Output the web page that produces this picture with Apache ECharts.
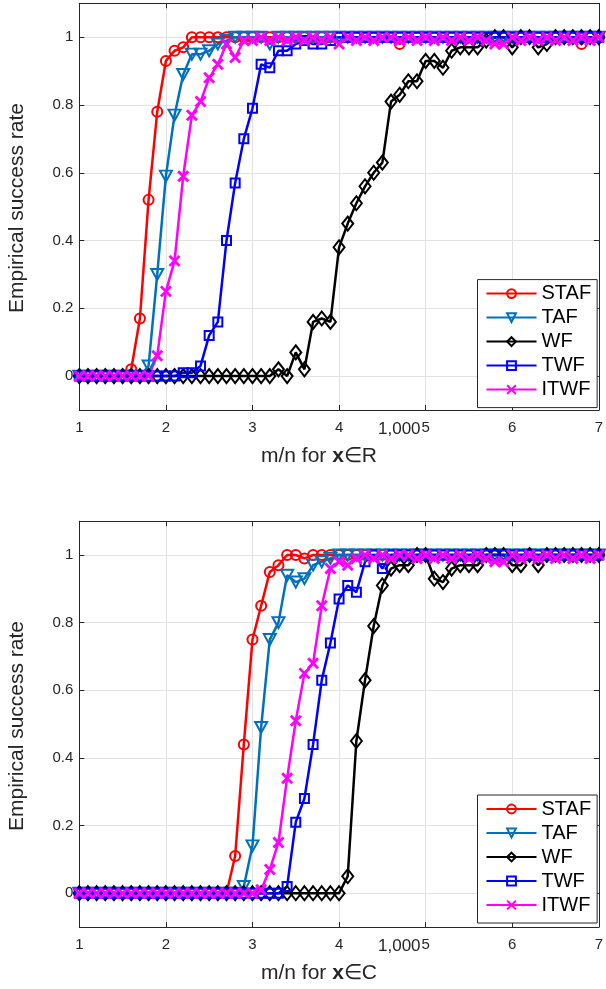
<!DOCTYPE html>
<html>
<head>
<meta charset="utf-8">
<script src="https://cdn.jsdelivr.net/npm/echarts@6/dist/echarts.min.js"></script>
<style>
  html, body { margin: 0; padding: 0; background: #fff; }
  #chart { width: 606px; height: 989px; }
</style>
</head>
<body>
<div id="chart"></div>
<script>
// Oversampling ratio m/n (shared by both panels)
const mRatio = [1.0,1.1,1.2,1.3,1.4,1.5,1.6,1.7,1.8,1.9,
                2.0,2.1,2.2,2.3,2.4,2.5,2.6,2.7,2.8,2.9,
                3.0,3.1,3.2,3.3,3.4,3.5,3.6,3.7,3.8,3.9,
                4.0,4.1,4.2,4.3,4.4,4.5,4.6,4.7,4.8,4.9,
                5.0,5.1,5.2,5.3,5.4,5.5,5.6,5.7,5.8,5.9,
                6.0,6.1,6.2,6.3,6.4,6.5,6.6,6.7,6.8,6.9,7.0];

const xTicks = [1, 2, 3, 4, 5, 6, 7];
const yTicks = [0, 0.2, 0.4, 0.6, 0.8, 1];
const methods = ['STAF', 'TAF', 'WF', 'TWF', 'ITWF'];

// Real-valued signals, x in R^1000
const stafReal = [0,0,0,0,0,0,.02,.17,.52,.78,
                  .93,.96,.97,1,1,1,1,1,1,1,
                  1,1,1,1,1,1,1,1,1,1,
                  1,1,1,1,1,1,1,.98,1,1,
                  1,1,1,1,1,1,1,1,1,1,
                  1,1,1,1,1,1,1,1,.98,1,1];
const tafReal  = [0,0,0,0,0,0,0,0,.03,.30,
                  .59,.77,.89,.95,.95,.96,.98,.99,1,1,
                  1,1,.98,1,1,1,1,1,1,1,
                  1,1,1,1,1,1,1,1,1,1,
                  1,1,1,1,1,1,1,1,1,1,
                  1,1,1,1,1,1,1,1,1,1,1];
const wfReal   = [0,0,0,0,0,0,0,0,0,0,
                  0,0,0,0,0,0,0,0,0,0,
                  0,0,0,.02,0,.07,.02,.16,.17,.16,
                  .38,.45,.51,.56,.60,.63,.81,.83,.87,.87,
                  .93,.93,.91,.96,.97,.97,.97,.99,1,1,
                  .97,1,1,.97,.98,1,1,1,1,1,1];
const twfReal  = [0,0,0,0,0,0,0,0,0,0,
                  0,0,.01,.01,.03,.12,.16,.40,.57,.70,
                  .79,.92,.91,.96,.96,.98,.99,.98,.98,.99,
                  1,1,1,1,1,1,1,1,1,1,
                  1,1,1,1,1,1,1,1,1,1,
                  1,1,1,1,1,1,1,1,1,1,1];
const itwfReal = [0,0,0,0,0,0,0,0,0,.06,
                  .25,.34,.59,.77,.81,.88,.92,.98,.94,.99,
                  .99,1,.99,1,.99,1,.99,1,.99,1,
                  .98,1,.99,1,.99,1,1,.99,1,.99,
                  1,.99,1,.99,1,.99,1,.99,.98,.98,
                  1,.99,1,.99,1,.99,1,.99,1,.99,1];

// Complex-valued signals, x in C^1000
const stafCplx = [0,0,0,0,0,0,0,0,0,0,
                  0,0,0,0,0,0,0,0,.11,.44,
                  .75,.85,.95,.97,1,1,.99,1,1,1,
                  1,1,1,1,1,1,1,1,1,1,
                  1,1,1,1,1,1,1,1,1,1,
                  1,1,1,1,1,1,1,1,1,1,1];
const tafCplx  = [0,0,0,0,0,0,0,0,0,0,
                  0,0,0,0,0,0,0,0,0,.02,
                  .14,.49,.75,.80,.94,.92,.93,.97,.98,.99,
                  1,1,1,1,1,1,1,1,1,1,
                  1,1,1,1,1,1,1,1,1,1,
                  1,1,1,1,1,1,1,1,1,1,1];
const wfCplx   = [0,0,0,0,0,0,0,0,0,0,
                  0,0,0,0,0,0,0,0,0,0,
                  0,0,0,0,0,0,0,0,0,0,
                  0,.05,.45,.63,.79,.91,.96,.97,.97,1,
                  1,.93,.92,.96,.97,.97,.97,1,1,1,
                  .97,.97,1,.97,1,1,1,1,1,1,1];
const twfCplx  = [0,0,0,0,0,0,0,0,0,0,
                  0,0,0,0,0,0,0,0,0,0,
                  0,0,0,0,.02,.21,.28,.44,.63,.74,
                  .87,.91,.89,.98,1,.96,1,1,1,1,
                  1,1,1,1,1,1,1,1,1,1,
                  1,1,1,1,1,1,1,1,1,1,1];
const itwfCplx = [0,0,0,0,0,0,0,0,0,0,
                  0,0,0,0,0,0,0,0,0,0,
                  0,.01,.07,.15,.34,.51,.65,.68,.85,.96,
                  .98,.97,.99,1,.99,1,.99,1,1,.99,
                  1,.99,1,.99,1,.99,1,.99,.98,.98,
                  1,.99,1,.99,1,.99,1,.99,1,.99,1];

const FONT = '"Liberation Sans", Arial, Helvetica, sans-serif';
const AXIS_COLOR = '#262626';
const GRID_COLOR = '#e2e2e2';

// Marker / colour style of each method
const styles = {
  STAF: { color: '#FF0000', symbol: 'circle', size: 10, bw: 2 },
  TAF:  { color: '#0072BD', symbol: 'triangle', size: [12, 11], rotate: 180, bw: 2 },
  WF:   { color: '#000000', symbol: 'diamond', size: [11, 14], bw: 2 },
  TWF:  { color: '#0000FF', symbol: 'rect', size: 9, bw: 2 },
  ITWF: { color: '#FF00FF', symbol: 'path://M0,0L10,10M10,0L0,10', size: 10, bw: 2.8 }
};

function makeSeries(name, values, gridIdx) {
  const s = styles[name];
  return {
    name: name,
    type: 'line',
    xAxisIndex: gridIdx * 2,
    yAxisIndex: gridIdx * 2,
    data: mRatio.map((m, i) => [m, values[i]]),
    symbol: s.symbol,
    symbolSize: s.size,
    symbolRotate: s.rotate || 0,
    showAllSymbol: true,
    clip: true,
    lineStyle: { color: s.color, width: 2.5 },
    itemStyle: { color: 'none', borderColor: s.color, borderWidth: s.bw },
    emphasis: { disabled: true }
  };
}

function bottomX(gridIdx) {
  return {
    type: 'value', gridIndex: gridIdx, position: 'bottom',
    min: 1, max: 7, interval: 1,
    axisLine: { show: true, onZero: false, lineStyle: { color: AXIS_COLOR, width: 1 } },
    axisTick: { show: true, inside: true, length: 5, lineStyle: { color: AXIS_COLOR } },
    axisLabel: { show: true, margin: 10, fontSize: 15, color: AXIS_COLOR, fontFamily: FONT },
    splitLine: { show: true, lineStyle: { color: GRID_COLOR, width: 1 } }
  };
}
function topX(gridIdx) {
  return {
    type: 'value', gridIndex: gridIdx, position: 'top',
    min: 1, max: 7, interval: 1,
    axisLine: { show: true, onZero: false, lineStyle: { color: AXIS_COLOR, width: 1 } },
    axisTick: { show: true, inside: true, length: 5, lineStyle: { color: AXIS_COLOR } },
    axisLabel: { show: false },
    splitLine: { show: false }
  };
}
function leftY(gridIdx) {
  return {
    type: 'value', gridIndex: gridIdx, position: 'left',
    min: -0.1, max: 1.1,
    axisLine: { show: true, onZero: false, lineStyle: { color: AXIS_COLOR, width: 1 } },
    axisTick: { show: true, inside: true, length: 5, customValues: yTicks, lineStyle: { color: AXIS_COLOR } },
    axisLabel: {
      show: true, margin: 6, fontSize: 15, color: AXIS_COLOR, fontFamily: FONT,
      customValues: yTicks,
      formatter: v => (v === 0 ? '0' : v === 1 ? '1' : v.toFixed(1))
    },
    splitLine: { show: true, lineStyle: { color: GRID_COLOR, width: 1 } }
  };
}
function rightY(gridIdx) {
  return {
    type: 'value', gridIndex: gridIdx, position: 'right',
    min: -0.1, max: 1.1,
    axisLine: { show: true, onZero: false, lineStyle: { color: AXIS_COLOR, width: 1 } },
    axisTick: { show: true, inside: true, length: 5, customValues: yTicks, lineStyle: { color: AXIS_COLOR } },
    axisLabel: { show: false },
    splitLine: { show: false }
  };
}

function legendAt(top) {
  return {
    data: methods,
    orient: 'vertical',
    left: 477.5, top: top,
    backgroundColor: '#ffffff',
    borderColor: AXIS_COLOR, borderWidth: 1, borderRadius: 0,
    padding: [4, 6, 8, 8],
    itemGap: 4, itemWidth: 50, itemHeight: 11,
    selectedMode: false,
    textStyle: { fontSize: 20, color: '#000', fontFamily: FONT }
  };
}

// Axis titles (x label carries a bold vector symbol and a superscript dimension)
function xTitle(baselineBottom, setSymbol) {
  return [
    {
      type: 'text', x: 377, y: baselineBottom,
      style: {
        text: '{n|m/n for }{b|x}{n|∈' + setSymbol + '}',
        align: 'right', verticalAlign: 'bottom',
        rich: {
          n: { fontSize: 21, fontFamily: FONT, fill: AXIS_COLOR },
          b: { fontSize: 21, fontFamily: FONT, fontWeight: 'bold', fill: AXIS_COLOR }
        }
      }
    },
    {
      type: 'text', x: 378, y: baselineBottom - 46,
      style: { text: '1,000', fontSize: 17, fontFamily: FONT, fill: AXIS_COLOR, align: 'left', verticalAlign: 'top' }
    }
  ];
}
function yTitle(cy) {
  return {
    type: 'text', x: 17, y: cy, rotation: Math.PI / 2,
    style: { text: 'Empirical success rate', fontSize: 21, fontFamily: FONT, fill: AXIS_COLOR, align: 'center', verticalAlign: 'middle' }
  };
}

const option = {
  animation: false,
  backgroundColor: '#ffffff',
  grid: [
    { left: 79.3, top: 3.3, width: 521.4, height: 406.7, containLabel: false },
    { left: 79.3, top: 521.2, width: 521.4, height: 405.8, containLabel: false }
  ],
  xAxis: [bottomX(0), topX(0), bottomX(1), topX(1)],
  yAxis: [leftY(0), rightY(0), leftY(1), rightY(1)],
  legend: [legendAt(279.6), legendAt(795)],
  series: [
    makeSeries('STAF', stafReal, 0),
    makeSeries('TAF', tafReal, 0),
    makeSeries('WF', wfReal, 0),
    makeSeries('TWF', twfReal, 0),
    makeSeries('ITWF', itwfReal, 0),
    makeSeries('STAF', stafCplx, 1),
    makeSeries('TAF', tafCplx, 1),
    makeSeries('WF', wfCplx, 1),
    makeSeries('TWF', twfCplx, 1),
    makeSeries('ITWF', itwfCplx, 1)
  ],
  graphic: [
    yTitle(208),
    yTitle(726),
    ...xTitle(467, 'R'),
    ...xTitle(984, 'C')
  ]
};

const chart = echarts.init(document.getElementById('chart'), null, { renderer: 'canvas' });
chart.setOption(option);
</script>
</body>
</html>
